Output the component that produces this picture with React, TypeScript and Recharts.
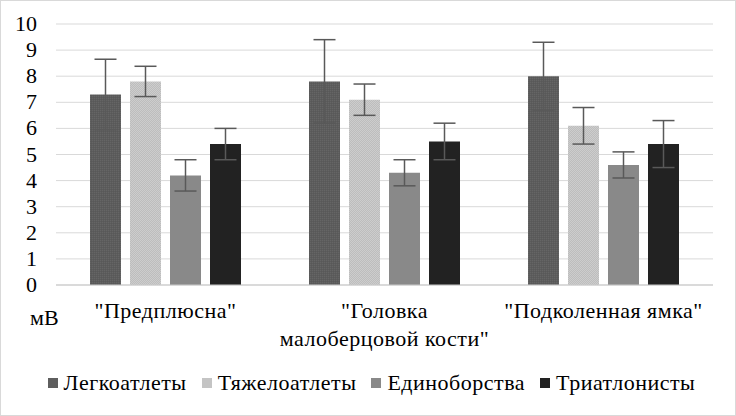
import React from 'react';
import { BarChart, Bar, XAxis, YAxis, CartesianGrid, Legend, ErrorBar } from 'recharts';

const categories = ['"Предплюсна"', '"Головка\nмалоберцовой кости"', '"Подколенная ямка"'];
const seriesNames = ['Легкоатлеты', 'Тяжелоатлеты', 'Единоборства', 'Триатлонисты'];
const legkValues = [7.3, 7.8, 8.0];
const legkErrors = [1.35, 1.6, 1.3];
const tyazhValues = [7.8, 7.1, 6.1];
const tyazhErrors = [0.58, 0.6, 0.7];
const edinValues = [4.2, 4.3, 4.6];
const edinErrors = [0.6, 0.5, 0.5];
const triValues = [5.4, 5.5, 5.4];
const triErrors = [0.6, 0.7, 0.9];
const yTicks = [0, 1, 2, 3, 4, 5, 6, 7, 8, 9, 10];
const unitLabel = 'мВ';

const data = categories.map((c, i) => ({
  name: c,
  legk: legkValues[i],
  legkErr: legkErrors[i],
  tyazh: tyazhValues[i],
  tyazhErr: tyazhErrors[i],
  edin: edinValues[i],
  edinErr: edinErrors[i],
  tri: triValues[i],
  triErr: triErrors[i],
}));

const FONT = "'Liberation Serif', 'Times New Roman', serif";
const FS = 22;
const LS = '0.5px';
const legendColors = ['#5e5e5e', '#c4c4c4', '#898989', '#222222'];
const fills = ['url(#pat1)', 'url(#pat2)', '#898989', '#222222'];

const XTick = (props: any) => {
  const { x, y, payload } = props;
  const lines = String(payload.value).split('\n');
  return (
    <text x={x} y={y} textAnchor="middle" fill="#000" style={{ fontSize: FS, fontFamily: FONT, letterSpacing: LS }}>
      {lines.map((l, i) => (
        <tspan key={i} x={x} dy={i === 0 ? 33 : 28}>{l}</tspan>
      ))}
    </text>
  );
};

const YTick = (props: any) => {
  const { x, y, payload } = props;
  return (
    <text x={x} y={y} dy={7} textAnchor="end" fill="#000" style={{ fontSize: FS, fontFamily: FONT }}>
      {payload.value}
    </text>
  );
};

const LegendContent = () => (
  <div
    style={{
      display: 'flex',
      justifyContent: 'center',
      alignItems: 'center',
      height: 46,
      fontFamily: FONT,
      fontSize: FS,
      letterSpacing: LS,
      color: '#000',
      paddingBottom: 20,
      paddingLeft: 30,
      boxSizing: 'border-box',
    }}
  >
    {seriesNames.map((n, i) => (
      <div key={n} style={{ display: 'flex', alignItems: 'center', marginRight: i < 3 ? 15 : 0 }}>
        <span style={{ width: 10, height: 10, background: legendColors[i], display: 'inline-block', marginRight: 6 }} />
        <span>{n}</span>
      </div>
    ))}
  </div>
);

export default function App() {
  return (
    <div
      style={{
        position: 'absolute',
        left: 0,
        top: 0,
        width: 736,
        height: 416,
        background: '#fff',
        boxSizing: 'border-box',
        border: '1px solid #d9d9d9',
        overflow: 'hidden',
        fontFamily: FONT,
      }}
    >
      <div style={{ position: 'absolute', left: -1, top: -1 }}>
        <BarChart
          width={736}
          height={416}
          data={data}
          margin={{ top: 24, right: 23, left: 0, bottom: 0 }}
          barSize={31}
          barGap={9}
        >
          <defs>
            <pattern id="pat1" width="2" height="2" patternUnits="userSpaceOnUse">
              <rect width="2" height="2" fill="#5c5c5c" />
              <rect width="1" height="1" fill="#656565" />
              <rect x="1" y="1" width="1" height="1" fill="#585858" />
            </pattern>
            <pattern id="pat2" width="2" height="2" patternUnits="userSpaceOnUse">
              <rect width="2" height="2" fill="#bdbdbd" />
              <rect width="1" height="1" fill="#cdcdcd" />
              <rect x="1" y="1" width="1" height="1" fill="#cdcdcd" />
            </pattern>
          </defs>
          <CartesianGrid vertical={false} stroke="#d9d9d9" strokeWidth={1} />
          <XAxis
            dataKey="name"
            tickLine={false}
            tickSize={0}
            tickMargin={0}
            axisLine={{ stroke: '#c8c8c8', strokeWidth: 1 }}
            height={85}
            interval={0}
            tick={<XTick />}
          />
          <YAxis
            width={56}
            domain={[0, 10]}
            ticks={yTicks}
            interval={0}
            axisLine={false}
            tickLine={false}
            tickSize={0}
            tickMargin={19}
            tick={<YTick />}
            label={{
              content: (p: any) => {
                const vb = p.viewBox || { x: 0, y: 24, width: 56, height: 261 };
                return (
                  <text x={vb.x + 30} y={vb.y + vb.height + 40} fill="#000" style={{ fontSize: FS, fontFamily: FONT }}>
                    {unitLabel}
                  </text>
                );
              },
            }}
          />
          <Legend verticalAlign="bottom" height={46} content={<LegendContent />} />
          <Bar dataKey="legk" name={seriesNames[0]} fill={fills[0]} isAnimationActive={false}>
            <ErrorBar dataKey="legkErr" width={11} stroke="#595959" strokeWidth={1.5} />
          </Bar>
          <Bar dataKey="tyazh" name={seriesNames[1]} fill={fills[1]} isAnimationActive={false}>
            <ErrorBar dataKey="tyazhErr" width={11} stroke="#595959" strokeWidth={1.5} />
          </Bar>
          <Bar dataKey="edin" name={seriesNames[2]} fill={fills[2]} isAnimationActive={false}>
            <ErrorBar dataKey="edinErr" width={11} stroke="#595959" strokeWidth={1.5} />
          </Bar>
          <Bar dataKey="tri" name={seriesNames[3]} fill={fills[3]} isAnimationActive={false}>
            <ErrorBar dataKey="triErr" width={11} stroke="#595959" strokeWidth={1.5} />
          </Bar>
        </BarChart>
      </div>
    </div>
  );
}
